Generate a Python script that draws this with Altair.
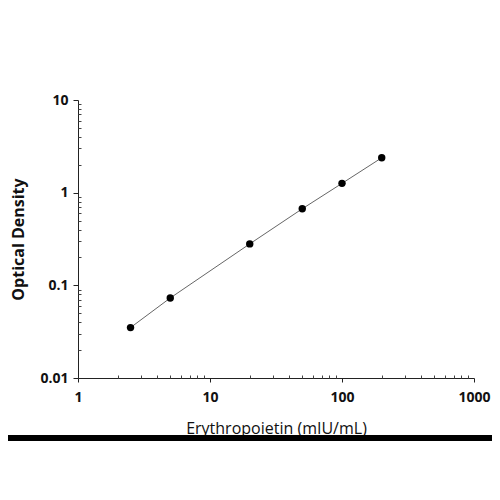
import altair as alt
import pandas as pd

# Standard curve data
conc = [2.5, 5, 20, 50, 100, 200]
od = [0.035, 0.073, 0.28, 0.67, 1.26, 2.38]

# Axis tick values
x_major = [1, 10, 100, 1000]
y_major = [0.01, 0.1, 1, 10]
x_minor = [m * d for d in [1, 10, 100] for m in range(2, 10)]
y_minor = [round(m * d, 4) for d in [0.01, 0.1, 1] for m in range(2, 10)]

W, H = 396, 278
FONT = "Open Sans"

df = pd.DataFrame({"conc": conc, "od": od})
xscale = alt.Scale(type="log", domain=[1, 1000], nice=False)
yscale = alt.Scale(type="log", domain=[0.01, 10], nice=False)

main_x = alt.Axis(values=x_major, format="~g", grid=False, tickSize=4,
                  labelFontSize=14, labelFontWeight="bold", labelFont=FONT,
                  labelColor="#111", labelPadding=8, labelFlush=False,
                  domainColor="#222", tickColor="#222",
                  title="Erythropoietin (mIU/mL)", titleFont=FONT,
                  titleFontSize=16, titleFontWeight=500, titleColor="#111",
                  titlePadding=16.5, zindex=0)
main_y = alt.Axis(values=y_major, format="~g", grid=False, tickSize=5,
                  labelFontSize=14, labelFontWeight="bold", labelFont=FONT,
                  labelColor="#111", labelPadding=5, labelFlush=False,
                  domainColor="#222", tickColor="#222",
                  title="Optical Density", titleFont=FONT, titleFontSize=16,
                  titleFontWeight="bold", titleColor="#111", titlePadding=13,
                  zindex=0)

base = alt.Chart(df)
line = base.mark_line(color="#666", strokeWidth=1).encode(
    x=alt.X("conc:Q", scale=xscale, axis=main_x),
    y=alt.Y("od:Q", scale=yscale, axis=main_y),
)
pts = base.mark_circle(color="black", size=55, opacity=1).encode(
    x=alt.X("conc:Q", scale=xscale),
    y=alt.Y("od:Q", scale=yscale),
)
main = alt.layer(line, pts)

minor = base.mark_point(opacity=0).encode(
    x=alt.X("conc:Q", scale=xscale,
            axis=alt.Axis(orient="top", offset=-H, values=x_minor, labels=False,
                          domain=False, grid=False, tickSize=3, tickColor="#444",
                          title=None)),
    y=alt.Y("od:Q", scale=yscale,
            axis=alt.Axis(orient="right", offset=-W, values=y_minor, labels=False,
                          domain=False, grid=False, tickSize=3, tickColor="#444",
                          title=None)),
)

bar = alt.Chart(pd.DataFrame({"a": [0]})).mark_rule(
    color="black", strokeWidth=6).encode(
    x=alt.value(-73), x2=alt.value(417), y=alt.value(338))

chart = alt.layer(main, minor, bar).resolve_axis(
    x="independent", y="independent"
).resolve_scale(x="shared", y="shared").properties(
    width=W, height=H,
    autosize=alt.AutoSizeParams(type="none"),
    padding={"left": 70, "top": 92, "right": 18, "bottom": 110},
).configure_view(stroke=None)

chart.save("out.html", embed_options={"renderer": "svg", "actions": False})
